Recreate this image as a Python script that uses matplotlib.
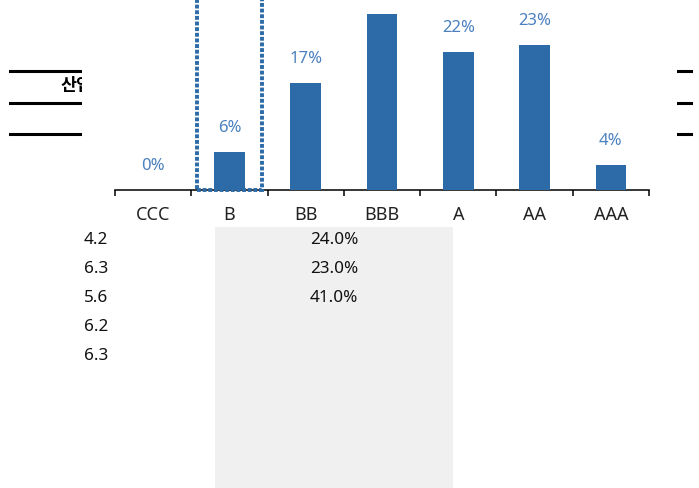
import matplotlib
matplotlib.use("Agg")
import matplotlib.pyplot as plt
from matplotlib.patches import Rectangle
from matplotlib.lines import Line2D

plt.rcParams['font.family'] = ['Noto Sans', 'Noto Sans CJK KR', 'DejaVu Sans']

# data
grades = ["CCC", "B", "BB", "BBB", "A", "AA", "AAA"]
shares = [0, 6, 17, 28, 22, 23, 4]
left_vals = [4.2, 6.3, 5.6, 6.2, 6.3]
mid_pcts = [24.0, 23.0, 41.0]
header_text = "산업"

bar_col = "#2c6ba7"
lab_col = "#4a80bf"

W, H = 699, 489
fig = plt.figure(figsize=(W / 100, H / 100), dpi=100)
fig.patch.set_facecolor("white")

def fx(px):
    return px / W

def fy(py):
    return 1 - py / H

# table header lines behind the chart
for yy in [72, 104, 135]:
    fig.add_artist(Line2D([fx(10), fx(691)], [fy(yy), fy(yy)], color="black",
                          lw=2.2, transform=fig.transFigure, zorder=0))
fig.text(fx(61), fy(86), header_text, fontsize=12.5, fontweight="bold",
         family=['Noto Sans CJK KR'], ha="left", va="center", zorder=0)

# chart axes, white background covers the lines in the middle
ax = fig.add_axes([fx(82), fy(191), fx(677) - fx(82), 191 / H])
ax.set_zorder(5)
ax.set_facecolor("white")

ymax = 191 / 6.29
x = list(range(len(grades)))
ax.bar(x, shares, width=0.4, color=bar_col, zorder=3)
for xi, v in zip(x, shares):
    if v > ymax - 5:
        continue  # label runs off the top of the picture, as in the original
    ax.annotate(f"{v}%", (xi, v), xytext=(0, 18), textcoords="offset points",
                ha="center", va="center", fontsize=12, color=lab_col)

ax.set_xlim(-0.5 - 33 / 76.29, 6.5 + 28 / 76.29)
ax.set_ylim(0, ymax)

# highlight box around B
ax.add_patch(Rectangle((1 - 0.426, 0), 0.852, 60, fill=False, ec=bar_col,
                       lw=2.8, ls=(0, (1, 0.45)), zorder=4, clip_on=False))

for s in ["left", "top", "right"]:
    ax.spines[s].set_visible(False)
ax.spines["bottom"].set_bounds(-0.5, 6.5)
ax.spines["bottom"].set_linewidth(1.1)
ax.set_yticks([])
ax.set_xticks([i - 0.5 for i in range(len(grades) + 1)])
ax.set_xticklabels([])
ax.tick_params(axis="x", which="major", length=4.5, width=1.1, direction="out")
ax.set_xticks(x, minor=True)
ax.set_xticklabels(grades, minor=True, fontsize=13, color="#222222")
ax.tick_params(axis="x", which="minor", length=0, pad=10.5)

# lower table part
fig.add_artist(Rectangle((fx(215), fy(489)), fx(453) - fx(215), fy(228) - fy(489),
                         transform=fig.transFigure, color="#f0f0f0", lw=0, zorder=0))
rows_y = [240, 269, 298, 327, 356]
for yy, v in zip(rows_y, left_vals):
    fig.text(fx(108), fy(yy), f"{v:.1f}", ha="right", va="center", fontsize=12.3,
             color="#111111")
for yy, p in zip(rows_y, mid_pcts):
    fig.text(fx(334), fy(yy), f"{p:.1f}%", ha="center", va="center", fontsize=12.3,
             color="#111111")

fig.savefig("out.png", dpi=100)
